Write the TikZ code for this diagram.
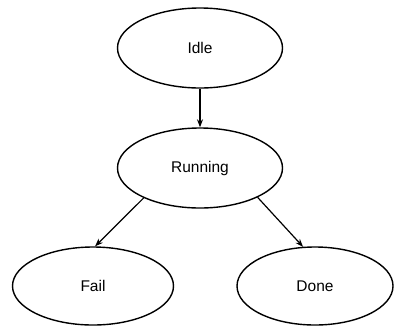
\documentclass[tikz,border=0pt]{standalone}
\usepackage{fontspec}
\setmainfont{Liberation Sans}
\usetikzlibrary{shapes.geometric,arrows.meta}
\begin{document}
\begin{tikzpicture}[x=1pt,y=-1pt,
  state/.style={draw,line width=1.4pt,ellipse,inner sep=0pt,font=\fontsize{15.5}{18}\selectfont},
  trans/.style={draw,line width=1.2pt,-{Stealth[length=8pt,width=6pt]}}]
  \useasboundingbox (0,0) rectangle (395,327);
  \node[state,minimum width=165pt,minimum height=80pt] (idle) at (200,48) {Idle};
  \node[state,minimum width=165pt,minimum height=80pt] (run) at (200,168) {Running};
  \node[state,minimum width=161pt,minimum height=78pt] (fail) at (93,286) {Fail};
  \node[state,minimum width=156pt,minimum height=78pt] (done) at (315,286) {Done};
  \draw[trans] (idle) -- (run);
  \draw[trans] (run.208) -- (fail.87);
  \draw[trans] (run.333) -- (done.107);
\end{tikzpicture}
\end{document}
